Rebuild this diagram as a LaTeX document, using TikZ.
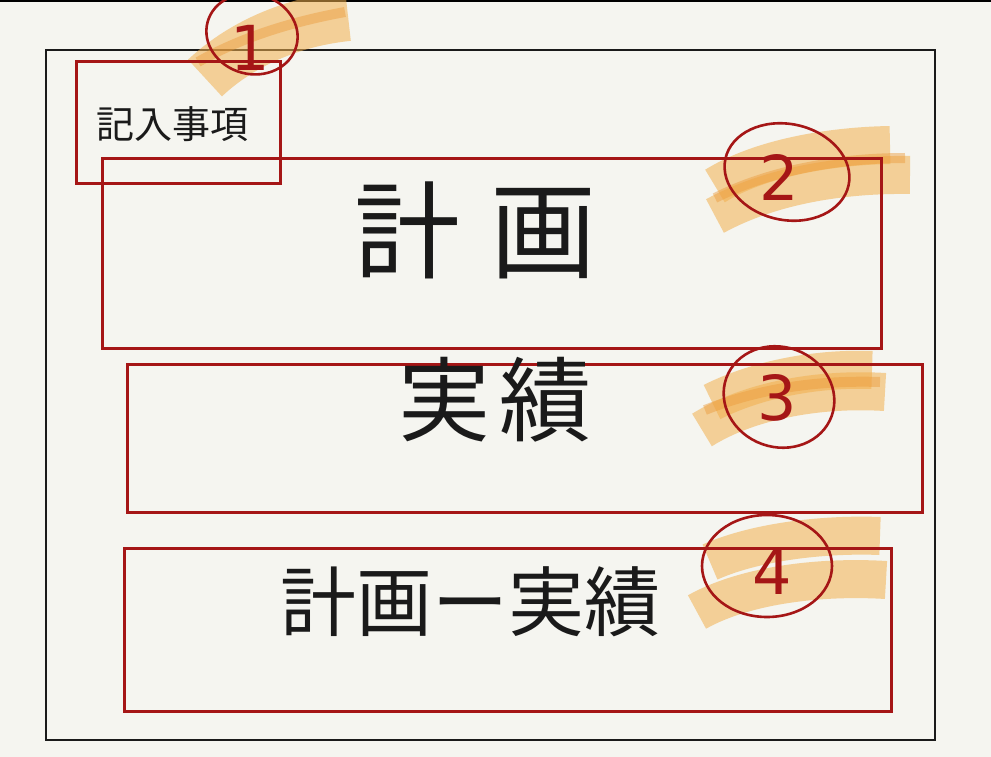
\documentclass[tikz,border=0pt]{standalone}
\usepackage{fontspec}
\newfontfamily\jp{Noto Sans CJK JP}
\setmainfont{DejaVu Sans}
\begin{document}
\begin{tikzpicture}[x=1pt,y=-1pt,
  redbox/.style={draw=penred, line width=3.2pt},
  hl/.style={draw=hlorange, line width=38pt, opacity=0.55, line cap=butt},
  hlthin/.style={draw=hldark, line width=10pt, opacity=0.45},
  numring/.style={draw=penred, line width=2.6pt},
  numtxt/.style={text=penred, font=\fontsize{62}{62}\selectfont, inner sep=0pt},
  hand/.style={font=\jp, text=ink, inner sep=0pt}]
\definecolor{penred}{HTML}{A51616}
\definecolor{hlorange}{HTML}{F2B04E}
\definecolor{hldark}{HTML}{EC9A3A}
\definecolor{ink}{HTML}{1A1A1A}
\definecolor{paper}{HTML}{F5F5F0}
\fill[paper] (0,0) rectangle (991,757);
\useasboundingbox (0,0) rectangle (991,757);
\fill[black] (0,0) rectangle (991,2);
% outer frame
\draw[ink, line width=2.6pt] (46,50) rectangle (935,740);
% highlights
\draw[hl, line width=50pt] (205,78) .. controls (240,45) and (290,22) .. (348,16);
\draw[hlthin] (198,62) .. controls (240,38) and (290,22) .. (345,12);
\draw[hl] (715,186) .. controls (760,158) and (830,146) .. (890,145);
\draw[hl] (715,216) .. controls (770,186) and (840,174) .. (910,175);
\draw[hlthin] (715,198) .. controls (770,170) and (840,158) .. (905,158);
\draw[hl] (702,430) .. controls (750,400) and (820,388) .. (885,392);
\draw[hl] (712,402) .. controls (760,378) and (820,368) .. (872,370);
\draw[hlthin] (705,410) .. controls (760,388) and (820,380) .. (880,382);
\draw[hl] (710,562) .. controls (760,540) and (830,534) .. (880,536);
\draw[hl] (697,612) .. controls (745,585) and (820,576) .. (886,580);
% red boxes
\node[redbox, minimum width=204, minimum height=122, anchor=north west, inner sep=0pt] (b1) at (75,60) {};
\node[redbox, minimum width=779, minimum height=190, anchor=north west, inner sep=0pt] (b2) at (101,157) {};
\node[redbox, minimum width=795, minimum height=148, anchor=north west, inner sep=0pt] (b3) at (126,363) {};
\node[redbox, minimum width=767, minimum height=163, anchor=north west, inner sep=0pt] (b4) at (123,547) {};
% texts
\node[hand, font=\jp\fontsize{38}{38}\selectfont] (t1) at (172,124) {記入事項};
\node[hand, font=\jp\fontsize{106}{106}\selectfont] (t2) at (475,230) {計\hspace{30pt}画};
\node[hand, font=\jp\fontsize{92}{92}\selectfont] (t3) at (495,400) {実\hspace{10pt}績};
\node[hand, font=\jp\fontsize{76}{76}\selectfont] (t4) at (470,602) {計画ー実績};
% numbered rings
\draw[numring, rotate around={-15:(252,34)}] (252,34) ellipse (46 and 40);
\node[numtxt] (n1) at (250,48) {1};
\draw[numring, rotate around={-12:(787,172)}] (787,172) ellipse (63 and 48);
\node[numtxt] (n2) at (779,177) {2};
\draw[numring, rotate around={-20:(779,397)}] (779,397) ellipse (56 and 50);
\node[numtxt] (n3) at (777,398) {3};
\draw[numring] (767,566) ellipse (65 and 51);
\node[numtxt] (n4) at (772,572) {4};
\end{tikzpicture}
\end{document}
